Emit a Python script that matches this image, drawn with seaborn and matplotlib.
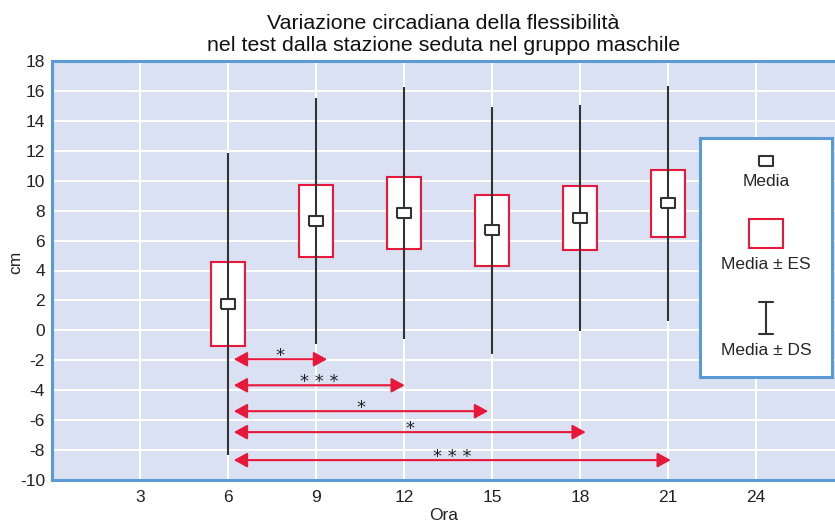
import numpy as np
import seaborn as sns
import matplotlib.pyplot as plt
from matplotlib.patches import Rectangle

# Data (cm)
hours = [6, 9, 12, 15, 18, 21]
means = [1.75, 7.3, 7.85, 6.7, 7.5, 8.5]
se = [2.8, 2.43, 2.4, 2.37, 2.15, 2.23]
sd = [10.1, 8.2, 8.4, 8.25, 7.55, 7.85]

# significance arrows from 6h
arrow_start = 6.2
arrow_end = [9.38, 12.03, 14.87, 18.2, 21.1]
arrow_y = [-1.93, -3.67, -5.4, -6.8, -8.67]
arrow_sig = ['*', '* * *', '*', '*', '* * *']

x_ticks = [3, 6, 9, 12, 15, 18, 21, 24]
y_ticks = list(range(-10, 19, 2))

red = '#e8183a'
blue = '#5b9bd5'
dark = '#333333'

sns.set_style('whitegrid', {'axes.facecolor': '#d9e1f2', 'grid.color': 'white'})
plt.rcParams['font.family'] = ['Liberation Sans', 'DejaVu Sans']
plt.rcParams['axes.unicode_minus'] = False

fig = plt.figure(figsize=(8.35, 5.23), dpi=100)
ax = fig.add_axes([52 / 835, 43 / 523, 783 / 835, 419 / 523])

means = np.array(means)
se = np.array(se)
sd = np.array(sd)

# SE boxes
ax.bar(hours, 2 * se, bottom=means - se, width=1.15, facecolor='white',
       edgecolor=red, linewidth=1.5, zorder=2)
# SD lines
ax.vlines(hours, means - sd, means + sd, color=dark, linewidth=1.5, zorder=3)
# mean markers
rect_marker = [(-1, -0.7), (1, -0.7), (1, 0.7), (-1, 0.7), (-1, -0.7)]
sns.scatterplot(x=hours, y=means, marker=rect_marker, s=100, color='white',
                edgecolor=dark, linewidth=1.5, zorder=4, ax=ax)

# significance arrows
for end, y, sig in zip(arrow_end, arrow_y, arrow_sig):
    ax.annotate('', xy=(end, y), xytext=(arrow_start, y),
                arrowprops=dict(arrowstyle='<|-|>,head_length=0.4,head_width=0.22',
                                mutation_scale=20, color=red, lw=1.5,
                                shrinkA=0, shrinkB=0), zorder=3)
    ax.text((arrow_start + end) / 2, y - 0.1, sig, ha='center', va='baseline',
            fontsize=13, color='#222222', family='DejaVu Sans')

ax.set_xlim(0, 26.7)
ax.set_ylim(-10, 18)
ax.set_xticks(x_ticks)
ax.set_yticks(y_ticks)
ax.grid(True, color='white', linewidth=1.5)
ax.tick_params(axis='both', length=0, labelsize=12.5, colors='#222222')
ax.tick_params(axis='x', pad=7)
ax.tick_params(axis='y', pad=5)

for side in ['left', 'bottom', 'top']:
    ax.spines[side].set_color(blue)
    ax.spines[side].set_linewidth(2.2)
ax.spines['right'].set_visible(False)

ax.set_title('Variazione circadiana della flessibilità\nnel test dalla stazione seduta nel gruppo maschile',
             fontsize=15.4, pad=7, linespacing=1.25, color='#111111')
ax.set_xlabel('Ora', fontsize=12.5, labelpad=2, color='#222222')
ax.set_ylabel('cm', fontsize=12.5, color='#222222')
ax.yaxis.set_label_coords(-0.037, 0.52)

# legend panel
lax = fig.add_axes([700 / 835, 146 / 523, 132 / 835, 239 / 523])
lax.set_xlim(0, 1)
lax.set_ylim(0, 1)
lax.set_xticks([])
lax.set_yticks([])
lax.set_facecolor('white')
for s in lax.spines.values():
    s.set_color(blue)
    s.set_linewidth(2.2)
lax.scatter([0.5], [0.904], marker=rect_marker, s=100, color='white',
            edgecolor=dark, linewidth=1.5)
lax.text(0.5, 0.816, 'Media', ha='center', va='center', fontsize=12.5)
lax.add_patch(Rectangle((0.371, 0.54), 0.258, 0.121, facecolor='white',
                        edgecolor=red, linewidth=1.5))
lax.text(0.5, 0.469, 'Media ± ES', ha='center', va='center', fontsize=12.5)
lax.plot([0.5, 0.5], [0.18, 0.314], color=dark, lw=1.5)
lax.plot([0.447, 0.553], [0.18, 0.18], color=dark, lw=1.5)
lax.plot([0.447, 0.553], [0.314, 0.314], color=dark, lw=1.5)
lax.text(0.5, 0.109, 'Media ± DS', ha='center', va='center', fontsize=12.5)

fig.savefig('out.png', dpi=100)
